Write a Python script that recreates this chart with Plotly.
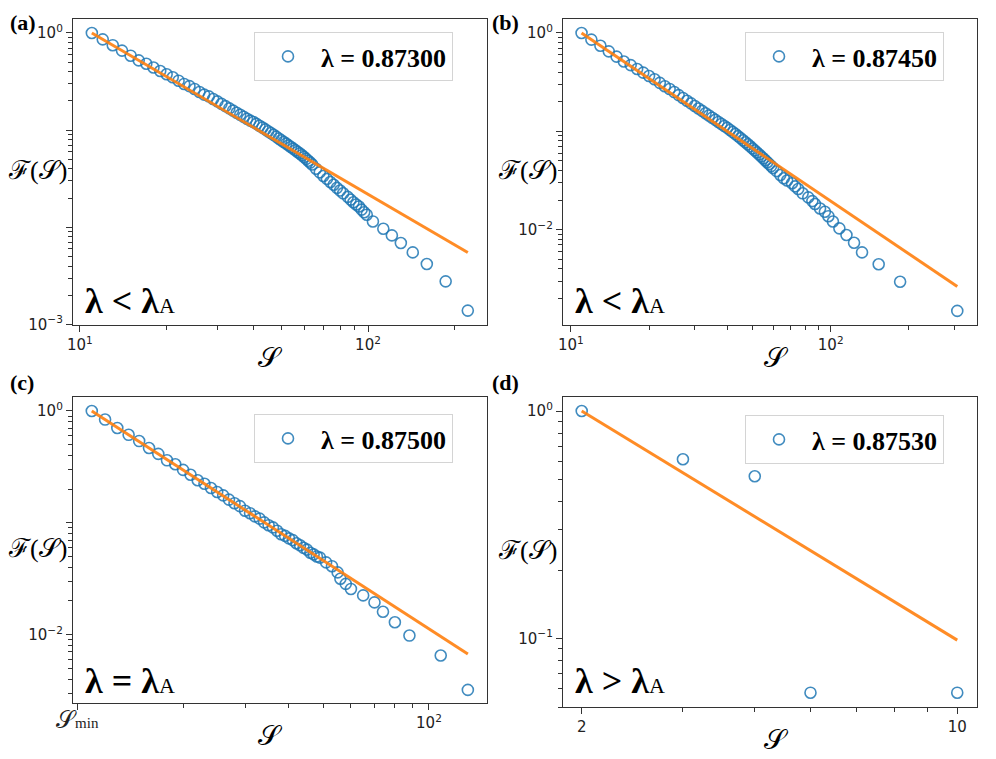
import plotly.graph_objects as go

# ---- data ----
# (a) lambda = 0.87300
S_a = list(range(11, 65)) + [66, 68, 70, 72, 74, 76, 78, 80, 82, 85, 87, 89, 91, 93, 95, 97, 99,
                             104, 113, 121, 130, 143, 160, 186, 222]
F_a = [1.000, 0.860, 0.749, 0.659, 0.584, 0.523, 0.482, 0.441, 0.406, 0.376,
       0.350, 0.323, 0.299, 0.284, 0.265, 0.247, 0.232, 0.2226, 0.2096, 0.1976,
       0.1866, 0.1767, 0.1675, 0.1590, 0.1512, 0.1441, 0.1374, 0.1312, 0.1254, 0.1215,
       0.1161, 0.1111, 0.1064, 0.1018, 0.0975, 0.0934, 0.0896, 0.0858, 0.0822, 0.0788,
       0.0756, 0.0727, 0.0698, 0.0671, 0.0646, 0.0621, 0.0597, 0.0576, 0.0552, 0.0530,
       0.0506, 0.0484, 0.0464, 0.0443,
       0.0401, 0.0368, 0.0338, 0.0315, 0.0293, 0.0274, 0.0255, 0.0239, 0.0224, 0.0206,
       0.0193, 0.0181, 0.0172, 0.0164, 0.0152, 0.0143, 0.0135,
       0.0115, 0.00968, 0.00826, 0.00690, 0.00552, 0.00420, 0.00278, 0.00139]
fit_S_a = [11, 222]
fit_F_a = [1.0, 0.0055]

# (b) lambda = 0.87450
S_b = list(range(11, 61)) + [62, 64, 66, 68, 71, 73, 75, 78, 82, 85, 87, 91, 95, 98, 102,
                             108, 115, 123, 132, 153, 185, 307]
F_b = [1.0, 0.856, 0.742, 0.650, 0.575, 0.513, 0.471, 0.430, 0.395, 0.365,
       0.338, 0.311, 0.287, 0.2695, 0.2506, 0.2335, 0.2184, 0.2047, 0.1923, 0.1810,
       0.1707, 0.1614, 0.1527, 0.1448, 0.1375, 0.1307, 0.1245, 0.1187, 0.1133, 0.1083,
       0.1031, 0.0982, 0.0937, 0.0893, 0.0852, 0.0812, 0.0774, 0.0739, 0.0704, 0.0671,
       0.0640, 0.0611, 0.0583, 0.0556, 0.0531, 0.0507, 0.0484, 0.0463, 0.0443, 0.0424,
       0.0393, 0.0359, 0.0333, 0.0316, 0.0296, 0.0275, 0.0259, 0.0234, 0.0213, 0.0195,
       0.0182, 0.0164, 0.0152, 0.0137, 0.0121, 0.0103, 0.00881, 0.00736, 0.00587,
       0.00444, 0.00295, 0.00149]
fit_S_b = [11, 307]
fit_F_b = [1.0, 0.00264]

# (c) lambda = 0.87500
S_c = list(range(11, 50)) + [51, 53, 55, 56, 58, 60, 65, 70, 74, 80, 88, 108, 129]
F_c = [1.0, 0.838, 0.705, 0.612, 0.538, 0.467, 0.413, 0.362, 0.334, 0.297,
       0.2686, 0.2400, 0.2233, 0.2048, 0.1885, 0.1760, 0.1611, 0.1496, 0.1410, 0.1280,
       0.1217, 0.1141, 0.1090, 0.1008, 0.0951, 0.0910, 0.0849, 0.0790, 0.0763, 0.0725,
       0.0700, 0.0656, 0.0630, 0.0597, 0.0575, 0.0540, 0.0522, 0.0500, 0.0488,
       0.0442, 0.0409, 0.0360, 0.0316, 0.0284, 0.0256, 0.0224, 0.0194, 0.0160, 0.0129,
       0.0098, 0.0065, 0.0032]
fit_S_c = [11, 129]
fit_F_c = [1.0, 0.0067]

# (d) lambda = 0.87530
S_d = [2, 3, 4, 5, 9]
F_d = [1.0, 0.614, 0.517, 0.0578, 0.0578]
fit_S_d = [2, 9]
fit_F_d = [1.0, 0.0984]

labels = ["λ = 0.87300", "λ = 0.87450", "λ = 0.87500", "λ = 0.87530"]
regimes = ["λ &lt; λ", "λ &lt; λ", "λ = λ", "λ &gt; λ"]
panel_tags = ["(a)", "(b)", "(c)", "(d)"]

# tick labels
sup = {0: "10<sup>0</sup>", -1: "10<sup>−1</sup>", -2: "10<sup>−2</sup>", -3: "10<sup>−3</sup>",
       1: "10<sup>1</sup>", 2: "10<sup>2</sup>"}
s_min = ("<span style='font-family:Liberation Serif;font-size:24px'>𝒮</span>"
         "<span style='font-family:Liberation Serif;font-size:15px'>min</span>")
x_ticks = [[10, 100], [10, 100], [10, 100], [2, 9]]
x_text = [[sup[1], sup[2]], [sup[1], sup[2]], [s_min, sup[2]], ["2", "10"]]
y_ticks = [[1, 0.1, 0.01, 0.001], [1, 0.1, 0.01], [1, 0.1, 0.01], [1, 0.1]]
y_text = [[sup[0], "", "", sup[-3]], [sup[0], "", sup[-2]], [sup[0], "", sup[-2]],
          [sup[0], sup[-1]]]
x_minor = [[20, 30, 40, 50, 60, 70, 80, 90, 200],
           [20, 30, 40, 50, 60, 70, 80, 90, 200, 300],
           [20, 30, 40, 50, 60, 70, 80, 90],
           [3, 4, 5, 6, 7, 8]]
y_minor_decades = [[-3, -2, -1], [-3, -2, -1], [-3, -2, -1], [-2, -1]]

# ---- layout geometry (pixels in the 996x759 window) ----
# the page body has an 8px margin, so the figure starts at (8, 8)
OFF = 8
W, H = 996 - OFF, 759 - OFF


def px(x):
    return (x - OFF) / W


def py(y):
    return 1 - (y - OFF) / H


boxes = [(73, 487, 19, 325), (563, 977, 19, 325), (73, 487, 397, 703), (563, 977, 397, 707)]
x_ranges = [[0.976, 2.413], [0.970, 2.563], [0.988, 2.165], [0.2685, 0.9886]]
y_ranges = [[-3.005, 0.144], [-2.970, 0.142], [-2.612, 0.125], [-1.301, 0.0617]]
legend_pos = [(254, 32), (745, 32), (254, 414), (745, 415)]
regime_base = [315, 315, 695, 695]

data = [(S_a, F_a, fit_S_a, fit_F_a), (S_b, F_b, fit_S_b, fit_F_b),
        (S_c, F_c, fit_S_c, fit_F_c), (S_d, F_d, fit_S_d, fit_F_d)]

blue = "rgba(31,119,180,0.85)"
orange = "rgba(255,127,14,0.9)"
axis_col = "#333333"
tick_font = dict(family="DejaVu Sans", size=15, color="#222222")

fig = go.Figure()
layout = dict(width=W, height=H, margin=dict(l=0, r=0, t=0, b=0),
              paper_bgcolor="white", plot_bgcolor="white", showlegend=True)
annotations = []

for i, (S, F, fS, fF) in enumerate(data):
    n = "" if i == 0 else str(i + 1)
    leg = "legend" + n
    fig.add_trace(go.Scatter(x=S, y=F, mode="markers", name="<b>" + labels[i] + "</b>",
                             legend=leg, xaxis="x" + n, yaxis="y" + n,
                             marker=dict(symbol="circle-open", size=11, color=blue,
                                         line=dict(width=1.6, color=blue))))
    fig.add_trace(go.Scatter(x=fS, y=fF, mode="lines", showlegend=False,
                             xaxis="x" + n, yaxis="y" + n,
                             line=dict(color=orange, width=3)))

    x0, x1, y0, y1 = boxes[i]
    ymin = [m * 10.0 ** k for k in y_minor_decades[i] for m in range(2, 10)]
    common = dict(type="log", tickmode="array", ticks="outside", ticklen=6, tickwidth=1,
                  tickcolor=axis_col, showgrid=False, zeroline=False, showline=True,
                  mirror=True, linecolor=axis_col, linewidth=1.3, tickfont=tick_font,
                  automargin=False)
    layout["xaxis" + n] = dict(
        common, range=x_ranges[i], domain=[px(x0), px(x1)], anchor="y" + n,
        tickvals=x_ticks[i], ticktext=x_text[i],
        minor=dict(tickvals=x_minor[i], ticks="outside", ticklen=3.5, tickcolor=axis_col,
                   showgrid=False))
    layout["yaxis" + n] = dict(
        common, range=y_ranges[i], domain=[py(y1), py(y0)], anchor="x" + n,
        tickvals=y_ticks[i], ticktext=y_text[i],
        minor=dict(tickvals=ymin, ticks="outside", ticklen=3.5, tickcolor=axis_col,
                   showgrid=False))

    lx, ly = legend_pos[i]
    layout[leg] = dict(x=px(lx), y=py(ly), xanchor="left", yanchor="top",
                       xref="paper", yref="paper",
                       bgcolor="rgba(255,255,255,0.8)", bordercolor="#d4d4d4", borderwidth=1,
                       itemwidth=56,
                       font=dict(family="Liberation Serif", size=26, color="black"))

    # regime text inside the panel
    annotations.append(dict(
        x=px(x0 + 10), y=py(regime_base[i] + 8), xref="paper", yref="paper",
        xanchor="left", yanchor="bottom", showarrow=False,
        text="<b>" + regimes[i] + "</b><span style='font-size:22px'>A</span>",
        font=dict(family="Liberation Serif", size=36, color="black")))
    # y-axis label (horizontal)
    annotations.append(dict(
        x=px(x0 - 36), y=py((y0 + y1) / 2 - 2), xref="paper", yref="paper",
        xanchor="center", yanchor="middle", showarrow=False, text="ℱ(𝒮)",
        font=dict(family="Liberation Serif", size=26, color="black")))
    # x-axis label
    annotations.append(dict(
        x=px((x0 + x1) / 2 + (-10 if i % 2 == 0 else 6)), y=py(y1 + 32),
        xref="paper", yref="paper", xanchor="center", yanchor="middle", showarrow=False,
        text="𝒮", font=dict(family="Liberation Serif", size=28, color="black")))
    # panel tag
    annotations.append(dict(
        x=px(OFF if i % 2 == 0 else 490), y=py(OFF if i < 2 else 368),
        xref="paper", yref="paper", xanchor="left", yanchor="top", showarrow=False,
        text="<b>" + panel_tags[i] + "</b>",
        font=dict(family="Liberation Serif", size=22, color="black")))

layout["annotations"] = annotations
fig.update_layout(**layout)
fig.write_html("out.html")
